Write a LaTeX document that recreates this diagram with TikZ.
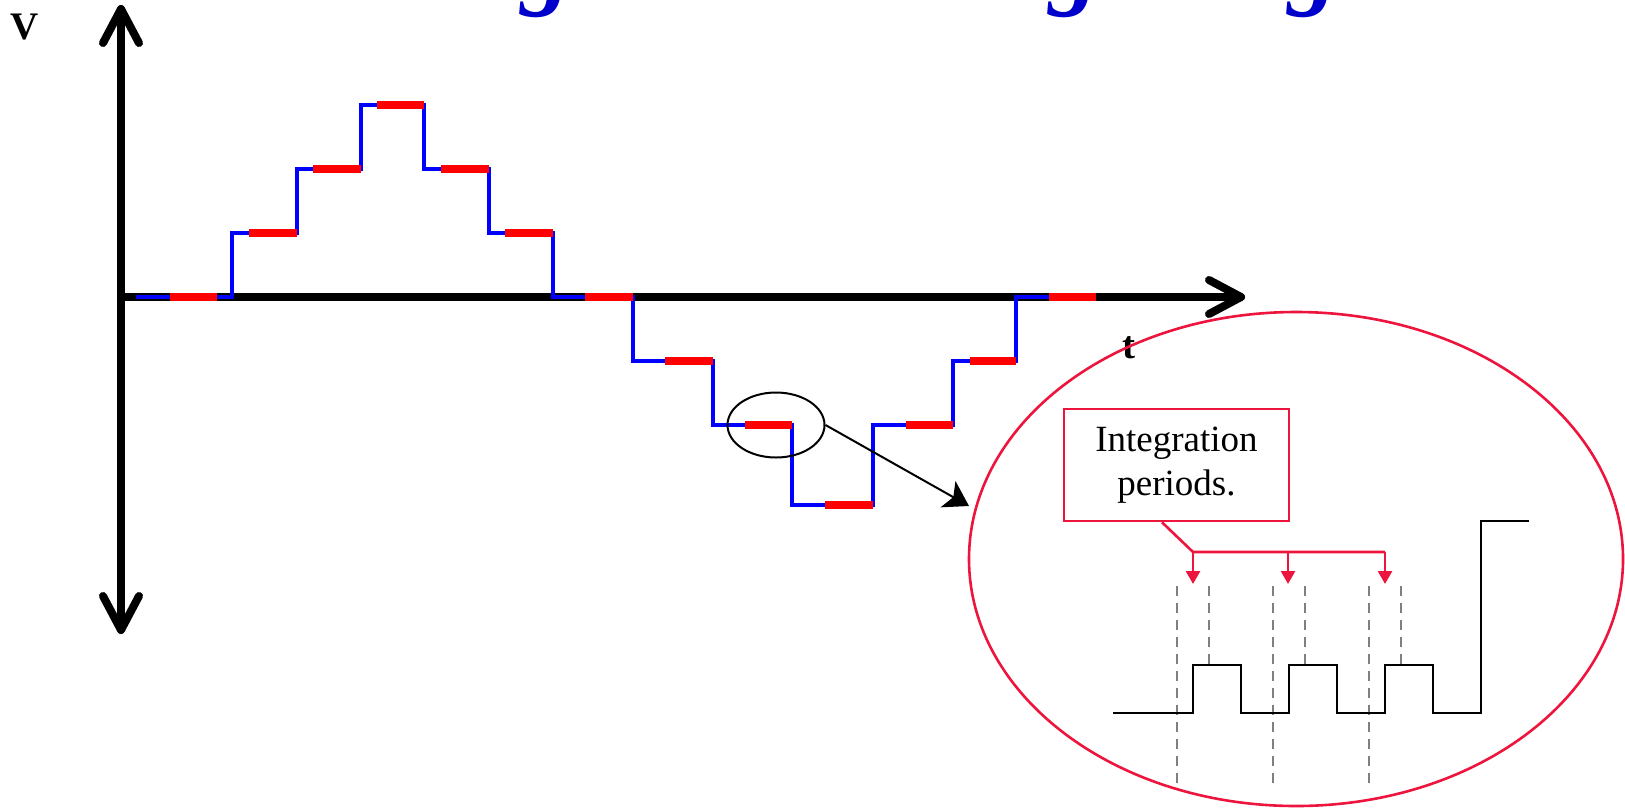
\documentclass[tikz,border=0pt]{standalone}
\usepackage{fontspec}
\setmainfont{Liberation Serif}
\usetikzlibrary{shapes.geometric,arrows.meta}
\definecolor{crim}{RGB}{237,20,61}
\definecolor{ttlblue}{RGB}{0,0,204}
\definecolor{dgray}{RGB}{128,128,128}
\begin{document}
\begin{tikzpicture}[x=0.5pt,y=-0.5pt,
  axisline/.style={line width=4pt, line cap=round, line join=round},
  sig/.style={blue, line width=1.6pt},
  bar/.style={red, line width=4pt},
  callout/.style={crim, line width=1.3pt},
  guide/.style={dgray, line width=1.2pt, dash pattern=on 5pt off 3.5pt},
  pulse/.style={black, line width=1.4pt},
  lbl/.style={font=\fontsize{19.5}{22}\selectfont\bfseries, inner sep=0, anchor=base},
  ttl/.style={font=\fontsize{50}{60}\selectfont\bfseries\itshape, text=ttlblue, inner sep=0, anchor=base}]
\useasboundingbox (0,0) rectangle (1625,809);
% title fragments (cut off by the top edge)
\node[ttl] (g1) at (546,-4) {g};
\node[ttl] (g2) at (1074,-4) {g};
\node[ttl] (g3) at (1313,-4) {g};
% axes
\coordinate (O) at (121,297);
\coordinate (ytop) at (121,9);
\coordinate (ybot) at (121,630);
\coordinate (xend) at (1241,297);
\draw[axisline] (ybot) -- (ytop);
\draw[axisline] (O) -- (xend);
\draw[axisline] (103,43) -- (ytop) -- (139,43);
\draw[axisline] (103,596) -- (ybot) -- (139,596);
\draw[axisline] (1209,280) -- (xend) -- (1209,314);
\node[lbl] (V) at (25,39) {V};
\node[lbl] (t) at (1129,358) {t};
% staircase signal
\draw[sig] (136,297) -- (232,297) -- (232,233) -- (297,233) -- (297,169) -- (361,169)
  -- (361,105) -- (424,105) -- (424,169) -- (489,169) -- (489,233) -- (553,233)
  -- (553,297) -- (633,297) -- (633,361) -- (713,361) -- (713,425) -- (792,425)
  -- (792,505) -- (873,505) -- (873,425) -- (953,425) -- (953,361) -- (1016,361)
  -- (1016,297) -- (1096,297);
\foreach \xa/\xb/\yy in {170/217/297, 249/297/233, 313/361/169, 377/424/105,
  441/489/169, 505/553/233, 585/633/297, 665/713/361, 745/792/425, 825/873/505,
  906/953/425, 970/1016/361, 1049/1096/297}
  \draw[bar] (\xa,\yy) -- (\xb,\yy);
% zoom marker
\node[ellipse, draw, line width=1pt, minimum width=48.5pt, minimum height=32.5pt, inner sep=0] (zsrc) at (776,425) {};
\coordinate (ztip) at (969,506);
\draw[line width=1pt, -{Stealth[length=12pt,width=15pt,inset=3pt]}] (zsrc.east) -- (ztip);
% magnified view
\node[ellipse, draw=crim, line width=1.3pt, minimum width=327pt, minimum height=247pt, inner sep=0] (lens) at (1296,559) {};
\node[draw=crim, line width=1.3pt, minimum width=112.5pt, minimum height=56pt, inner sep=0, align=center,
  font=\fontsize{18.5}{22}\selectfont] (box) at (1176.5,465) {Integration\\periods.};
\coordinate (j1) at (1193,552);
\coordinate (j2) at (1288,552);
\coordinate (j3) at (1385,552);
\coordinate (a1) at (1193,584);
\coordinate (a2) at (1288,584);
\coordinate (a3) at (1385,584);
\draw[callout] ([xshift=-7.25pt]box.south) -- (j1) -- (j3);
\foreach \s/\e in {j1/a1, j2/a2, j3/a3}
  \draw[callout, -{Triangle[length=6.5pt,width=7pt]}] (\s) -- (\e);
\foreach \xx in {1177,1273,1369}
  \draw[guide] (\xx,586) -- (\xx,787);
\foreach \xx in {1209,1305,1401}
  \draw[guide] (\xx,586) -- (\xx,664);
\draw[pulse] (1113,713) -- (1193,713) -- (1193,665) -- (1241,665) -- (1241,713) -- (1289,713)
  -- (1289,665) -- (1337,665) -- (1337,713) -- (1385,713) -- (1385,665) -- (1433,665)
  -- (1433,713) -- (1481,713) -- (1481,521) -- (1529,521);
\end{tikzpicture}
\end{document}
